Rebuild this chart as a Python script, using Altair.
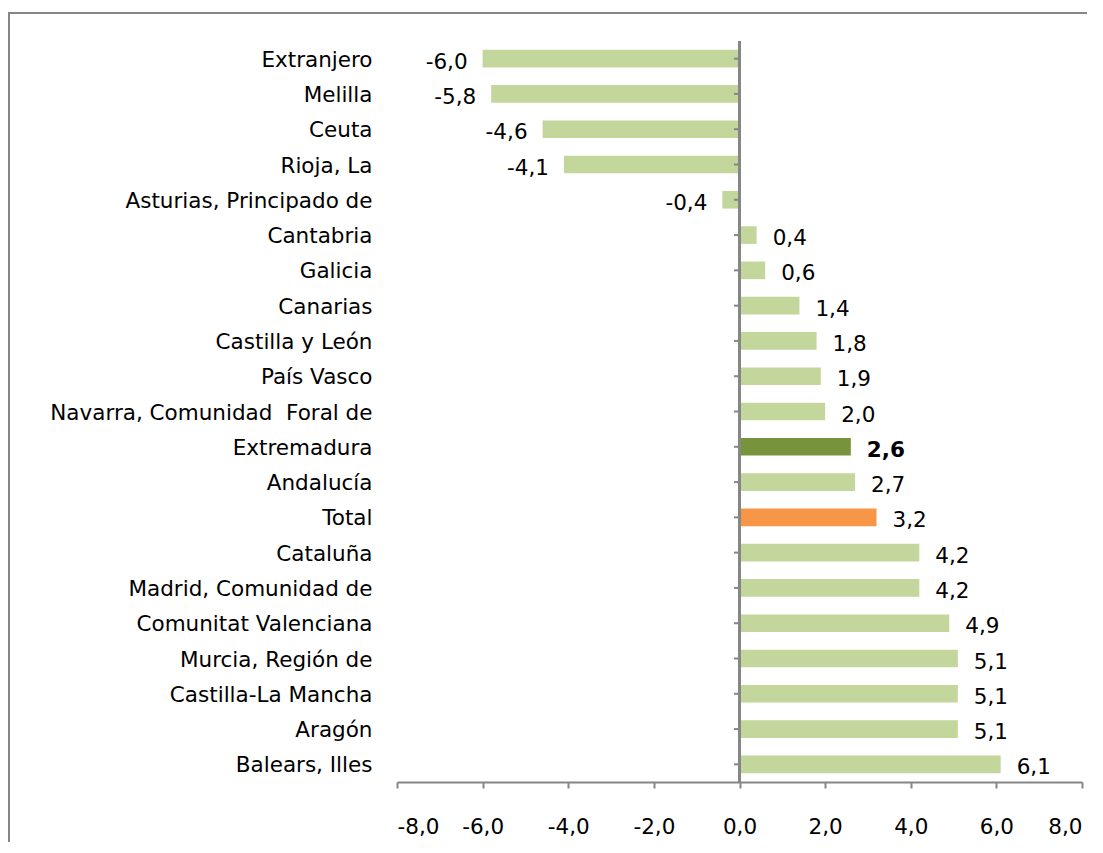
import altair as alt
import pandas as pd

categorias = [
    "Extranjero", "Melilla", "Ceuta", "Rioja, La", "Asturias, Principado de",
    "Cantabria", "Galicia", "Canarias", "Castilla y León", "País Vasco",
    "Navarra, Comunidad\u00a0 Foral de", "Extremadura", "Andalucía", "Total",
    "Cataluña", "Madrid, Comunidad de", "Comunitat Valenciana",
    "Murcia, Región de", "Castilla-La Mancha", "Aragón", "Balears, Illes",
]
valores = [
    -6.0, -5.8, -4.6, -4.1, -0.4,
    0.4, 0.6, 1.4, 1.8, 1.9,
    2.0, 2.6, 2.7, 3.2,
    4.2, 4.2, 4.9,
    5.1, 5.1, 5.1, 6.1,
]
grupo = ["resto"] * 11 + ["extremadura", "resto", "total"] + ["resto"] * 7

x_ticks = [-8, -6, -4, -2, 0, 2, 4, 6, 8]

df = pd.DataFrame({
    "cat": categorias,
    "v": valores,
    "grupo": grupo,
    "etiqueta": [f"{v:.1f}".replace(".", ",") for v in valores],
})

GRAY = "#868686"
FONT = "DejaVu Sans"

y_enc = alt.Y("cat:N", sort=None, title=None,
              scale=alt.Scale(paddingInner=0.5, paddingOuter=0.25),
              axis=alt.Axis(ticks=False, domain=False, labelPadding=25,
                            labelFontSize=21.5, labelColor="black",
                            labelFont=FONT, labelOffset=2, labelLimit=400))

x_enc = alt.X("v:Q", title=None,
              scale=alt.Scale(domain=[-8, 8], nice=False, zero=False),
              axis=alt.Axis(values=x_ticks, grid=False, domainColor=GRAY,
                            domainWidth=2, tickColor=GRAY, tickWidth=2,
                            tickSize=6, labelPadding=28, labelFontSize=21.5,
                            labelColor="black", labelFont=FONT,
                            labelExpr="(datum.value < 0 ? '-' : '') + replace(format(abs(datum.value), '.1f'), '.', ',')"))

base = alt.Chart(df)

bars = base.mark_bar().encode(
    x=x_enc,
    x2=alt.datum(0),
    y=y_enc,
    color=alt.Color("grupo:N", legend=None,
                    scale=alt.Scale(domain=["resto", "extremadura", "total"],
                                    range=["#C3D69B", "#77933C", "#F79646"])),
)

zero_line = base.mark_rule(color=GRAY, strokeWidth=2.5).encode(x=alt.datum(0))

ticks = base.mark_rule(color=GRAY, strokeWidth=2).encode(
    x=alt.datum(-0.13), x2=alt.datum(0), y=alt.Y("cat:N", sort=None)
)

lab_pos = base.transform_filter(
    "datum.v >= 0 && datum.grupo != 'extremadura'"
).mark_text(align="left", baseline="middle", dx=16, dy=4, fontSize=21.5,
            font=FONT, color="black").encode(
    x="v:Q", y=alt.Y("cat:N", sort=None), text="etiqueta:N")

lab_neg = base.transform_filter("datum.v < 0").mark_text(
    align="right", baseline="middle", dx=-15, dy=4, fontSize=21.5,
    font=FONT, color="black").encode(
    x="v:Q", y=alt.Y("cat:N", sort=None), text="etiqueta:N")

lab_bold = base.transform_filter("datum.grupo == 'extremadura'").mark_text(
    align="left", baseline="middle", dx=16, dy=4, fontSize=21.5,
    font=FONT, fontWeight="bold", color="black").encode(
    x="v:Q", y=alt.Y("cat:N", sort=None), text="etiqueta:N")

frame_df = pd.DataFrame({"k": [0]})
frame_left = alt.Chart(frame_df).mark_rule(color=GRAY, strokeWidth=2).encode(
    x=alt.value(-388), y=alt.value(-28), y2=alt.value(900))
frame_top = alt.Chart(frame_df).mark_rule(color=GRAY, strokeWidth=2).encode(
    x=alt.value(-389), x2=alt.value(1000), y=alt.value(-28))

chart = alt.layer(
    bars, zero_line, ticks, lab_pos, lab_neg, lab_bold, frame_left, frame_top
).properties(
    width=685, height=741,
    autosize=alt.AutoSizeParams(type="none"),
    padding={"left": 389, "top": 33, "right": 5, "bottom": 60},
).configure(font=FONT, background="white").configure_view(
    strokeWidth=0, stroke="transparent")

chart.save("out.html", embed_options={"renderer": "svg", "actions": False})
